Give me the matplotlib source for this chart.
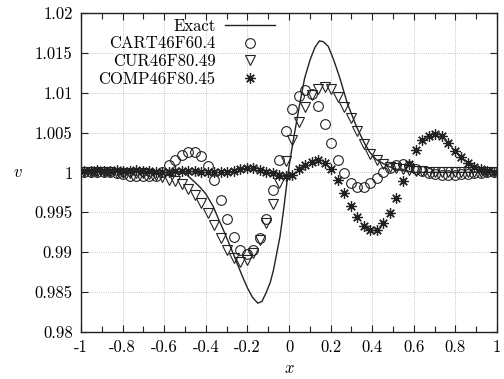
import numpy as np
import matplotlib
matplotlib.use("Agg")
import matplotlib.pyplot as plt

plt.rcParams['font.family'] = 'serif'
plt.rcParams['font.serif'] = ['cmr10', 'DejaVu Serif']
plt.rcParams['mathtext.fontset'] = 'cm'
plt.rcParams['axes.unicode_minus'] = False

# ---- data ----
x_exact = [-1.0, -0.6, -0.55, -0.5, -0.45, -0.43, -0.4, -0.364, -0.34, -0.316, -0.3, -0.268,
           -0.25, -0.22, -0.2, -0.175, -0.15, -0.13, -0.11, -0.09, -0.075, -0.06, -0.043,
           -0.025, -0.011, 0.0, 0.021, 0.053, 0.075, 0.101, 0.125, 0.146, 0.165, 0.189,
           0.215, 0.245, 0.28, 0.325, 0.36, 0.389, 0.42, 0.453, 0.5, 0.55, 0.6, 1.0]
v_exact = [1.0, 1.0, 0.99995, 0.9999, 0.9987, 0.9982, 0.9973, 0.9957, 0.9942, 0.9928, 0.9918,
           0.9898, 0.9886, 0.9867, 0.9855, 0.9843, 0.98358, 0.9838, 0.9849, 0.9862, 0.9877,
           0.9897, 0.9920, 0.9955, 0.9985, 1.0007, 1.0041, 1.0088, 1.0118, 1.0141, 1.0157,
           1.0165, 1.0164, 1.0158, 1.0141, 1.0118, 1.0087, 1.0057, 1.0038, 1.0025, 1.0016,
           1.0011, 1.0005, 1.0002, 1.0, 1.0]

x_pts = np.linspace(-0.984375, 0.984375, 64)

v_cart = [1.0000, 1.0001, 1.0001, 1.0001, 1.0000, 0.9999, 0.9998, 0.9996, 0.9995, 0.9995,
          0.9995, 0.9996, 1.0001, 1.0009, 1.0015, 1.0022, 1.0025, 1.0025, 1.0020, 1.0008,
          0.9990, 0.9965, 0.9941, 0.9919, 0.9903, 0.9897, 0.9902, 0.9917, 0.9942, 0.9978,
          1.0016, 1.0052, 1.0079, 1.0096, 1.0103, 1.0098, 1.0083, 1.0061, 1.0037, 1.0015,
          0.9999, 0.9987, 0.9982, 0.9982, 0.9987, 0.9993, 1.0000, 1.0006, 1.0009, 1.0010,
          1.0008, 1.0004, 1.0002, 0.9999, 0.9998, 0.9997, 0.9997, 0.9997, 0.9998, 0.9998,
          0.9999, 0.9999, 1.0000, 1.0000]

v_cur = [1.0000, 1.0000, 1.0000, 1.0000, 1.0000, 0.9999, 0.9999, 0.9999, 0.9999, 0.9999,
         0.9998, 0.9997, 0.99945, 0.9991, 0.9989, 0.9985, 0.9979, 0.9972, 0.9962, 0.9949,
         0.9934, 0.9918, 0.9903, 0.9892, 0.9887, 0.9890, 0.9899, 0.9915, 0.9936, 0.9960,
         0.9987, 1.0014, 1.0040, 1.0063, 1.0082, 1.0097, 1.0104, 1.0107, 1.0104, 1.0095,
         1.0082, 1.0068, 1.0052, 1.0036, 1.0023, 1.0016, 1.0011, 1.0007, 1.0005, 1.0004,
         1.0003, 1.0002, 1.0002, 1.0001, 1.0001, 1.0001, 1.0001, 1.0001, 1.0000, 1.0000,
         1.0000, 1.0000, 1.0000, 1.0000]

v_comp = [1.0002, 1.0002, 1.0003, 1.0002, 1.0002, 1.0003, 1.0002, 1.0002, 1.0003, 1.0002,
          1.0002, 1.0001, 1.0001, 1.0001, 1.0002, 1.0002, 1.0002, 1.0002, 1.0001, 1.0001,
          1.0000, 1.0000, 1.0001, 1.0002, 1.0004, 1.0005, 1.0005, 1.0003, 1.0001, 0.9999,
          0.9997, 0.9996, 0.9997, 1.0004, 1.0009, 1.0013, 1.0015, 1.0012, 1.0004, 0.9990,
          0.9974, 0.9958, 0.9944, 0.9933, 0.9928, 0.9928, 0.9936, 0.9949, 0.9968, 0.9989,
          1.0010, 1.0028, 1.0040, 1.0046, 1.0048, 1.0045, 1.0037, 1.0027, 1.0019, 1.0012,
          1.0007, 1.0004, 1.0002, 1.0001]

labels = ['Exact', 'CART46F60.4', 'CUR46F80.49', 'COMP46F80.45']
xticks = [-1, -0.8, -0.6, -0.4, -0.2, 0, 0.2, 0.4, 0.6, 0.8, 1]
xticklabels = ['-1', '-0.8', '-0.6', '-0.4', '-0.2', '0', '0.2', '0.4', '0.6', '0.8', '1']
yticks = [0.98, 0.985, 0.99, 0.995, 1.0, 1.005, 1.01, 1.015, 1.02]
yticklabels = ['0.98', '0.985', '0.99', '0.995', '1', '1.005', '1.01', '1.015', '1.02']

# ---- figure ----
fig = plt.figure(figsize=(5.04, 3.79), dpi=100)
ax = fig.add_axes([81/504, 1-331.7/379, 416/504, 318.7/379])

col = '#222222'
ax.plot(x_exact, v_exact, '-', color=col, lw=1.0, label=labels[0], zorder=3)
ax.plot(x_pts, v_cart, linestyle='none', marker='o', ms=7, mfc='none', mec=col,
        mew=0.8, label=labels[1], zorder=4)
ax.plot(x_pts, v_cur, linestyle='none', marker='v', ms=6.5, mfc='none', mec=col,
        mew=0.8, label=labels[2], zorder=4)
ax.plot(x_pts, v_comp, linestyle='none', marker=(8, 2, 0), ms=7.5, mfc='none', mec=col,
        mew=0.9, label=labels[3], zorder=4)
ax.plot(x_pts, v_comp, linestyle='none', marker='s', ms=2, mfc=col, mec=col,
        mew=0, zorder=5)

ax.set_xlim(-1, 1)
ax.set_ylim(0.98, 1.02)
ax.set_xticks(xticks)
ax.set_xticklabels(xticklabels)
ax.set_xticks(np.arange(-0.9, 1.0, 0.2), minor=True)
ax.set_yticks(yticks)
ax.set_yticklabels(yticklabels)
ax.tick_params(which='both', direction='in', top=True, right=True, labelsize=12,
               color=col, pad=6)
ax.tick_params(which='major', length=5, width=0.8)
ax.tick_params(which='minor', length=4, width=0.8)
ax.grid(True, which='major', linestyle=':', color='#b0b0b0', lw=0.6)
for s in ax.spines.values():
    s.set_color(col)
    s.set_linewidth(1.0)

ax.set_xlabel(r'$x$', fontsize=12, labelpad=4)
ax.set_ylabel(r'$v$', fontsize=12, rotation=0, labelpad=12, va='center')

leg = ax.legend(loc='upper right', bbox_to_anchor=(0.466, 0.983), frameon=False,
                markerfirst=False, fontsize=12, handlelength=3.0, handletextpad=0.55,
                labelspacing=0.14, borderpad=0, borderaxespad=0)

fig.savefig('out.png', dpi=100)
